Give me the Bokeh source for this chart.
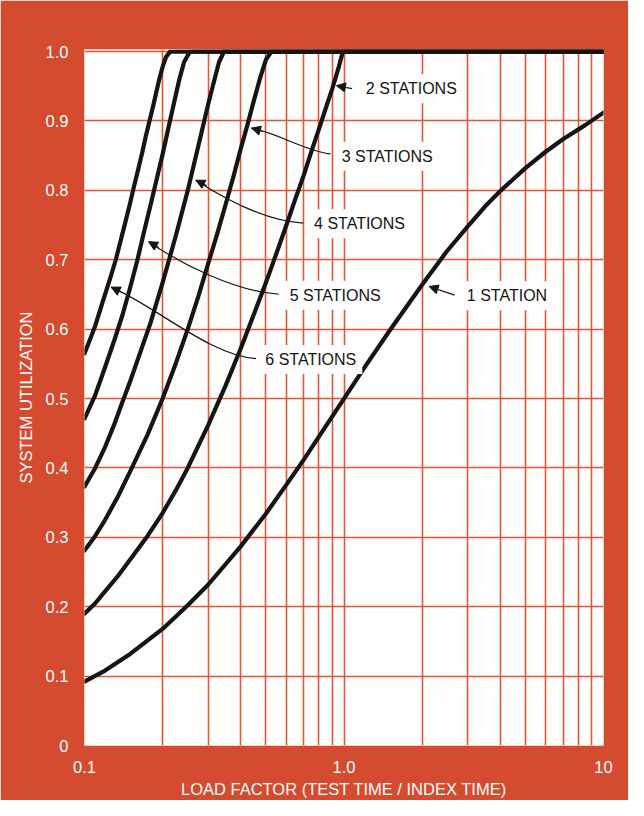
from bokeh.plotting import figure
from bokeh.models import FixedTicker, Label, Arrow, NormalHead, Range1d
from bokeh.embed import file_html
from bokeh.resources import INLINE

# ---------------- data ----------------
x_ticks = [0.1, 1.0, 10.0]
x_tick_labels = ["0.1", "1.0", "10"]
y_ticks = [0.0, 0.1, 0.2, 0.3, 0.4, 0.5, 0.6, 0.7, 0.8, 0.9, 1.0]
y_tick_labels = ["0", "0.1", "0.2", "0.3", "0.4", "0.5", "0.6", "0.7", "0.8", "0.9", "1.0"]

x_title = "LOAD FACTOR (TEST TIME / INDEX TIME)"
y_title = "SYSTEM UTILIZATION"

load_1 = [0.1, 0.12, 0.15, 0.2, 0.25, 0.3, 0.4, 0.5, 0.6, 0.7, 0.85, 1.0, 1.2, 1.5,
          2.0, 2.5, 3.0, 3.5, 4.0, 5.0, 6.0, 7.0, 8.5, 10.0]
util_1 = [0.092, 0.108, 0.132, 0.168, 0.202, 0.232, 0.287, 0.334, 0.376, 0.412, 0.46, 0.5, 0.545, 0.598,
          0.664, 0.713, 0.748, 0.777, 0.799, 0.832, 0.856, 0.874, 0.894, 0.912]

load_2 = [0.1, 0.11, 0.12, 0.135, 0.15, 0.175, 0.2, 0.225, 0.25, 0.3, 0.35, 0.4, 0.45, 0.5,
          0.55, 0.6, 0.65, 0.7, 0.75, 0.8, 0.85, 0.9, 0.95, 0.99, 10.0]
util_2 = [0.19, 0.205, 0.222, 0.245, 0.268, 0.302, 0.335, 0.368, 0.4, 0.462, 0.519, 0.572, 0.622, 0.667,
          0.71, 0.75, 0.788, 0.822, 0.857, 0.888, 0.918, 0.946, 0.975, 1.0, 1.0]

load_3 = [0.1, 0.11, 0.12, 0.135, 0.15, 0.175, 0.2, 0.225, 0.25, 0.275, 0.3, 0.325, 0.35,
          0.375, 0.4, 0.425, 0.45, 0.475, 0.5, 0.525, 10.0]
util_3 = [0.281, 0.302, 0.325, 0.36, 0.395, 0.448, 0.5, 0.551, 0.6, 0.648, 0.695, 0.738, 0.78,
          0.82, 0.86, 0.895, 0.93, 0.962, 0.988, 1.0, 1.0]

load_4 = [0.1, 0.11, 0.12, 0.13, 0.14, 0.15, 0.16, 0.18, 0.2, 0.225, 0.25, 0.275, 0.3,
          0.318, 0.33, 0.345, 10.0]
util_4 = [0.373, 0.4, 0.43, 0.462, 0.495, 0.525, 0.555, 0.61, 0.667, 0.735, 0.8, 0.865, 0.925,
          0.962, 0.985, 1.0, 1.0]

load_5 = [0.1, 0.11, 0.12, 0.13, 0.14, 0.15, 0.16, 0.17, 0.18, 0.19, 0.2, 0.21, 0.22,
          0.232, 0.242, 0.255, 10.0]
util_5 = [0.471, 0.505, 0.545, 0.583, 0.62, 0.66, 0.7, 0.742, 0.78, 0.817, 0.852, 0.888, 0.922,
          0.96, 0.985, 1.0, 1.0]

load_6 = [0.1, 0.105, 0.11, 0.115, 0.12, 0.126, 0.132, 0.139, 0.145, 0.15, 0.155, 0.161,
          0.167, 0.172, 0.178, 0.184, 0.19, 0.195, 0.2, 0.206, 0.214, 10.0]
util_6 = [0.565, 0.585, 0.605, 0.628, 0.65, 0.675, 0.7, 0.733, 0.76, 0.782, 0.805, 0.83,
          0.855, 0.877, 0.9, 0.922, 0.945, 0.963, 0.978, 0.992, 1.0, 1.0]

station_labels = ["1 STATION", "2 STATIONS", "3 STATIONS", "4 STATIONS", "5 STATIONS", "6 STATIONS"]

# ---------------- style ----------------
RED = "#d44b2f"
GRID = "#e2553a"
INK = "#151515"
PAPER = "#fdfdfb"
FONT = "Liberation Sans"

p = figure(width=628, height=800, x_axis_type="log",
           x_range=Range1d(0.1, 10.0), y_range=Range1d(0.0, 1.003),
           output_backend="svg", toolbar_location=None,
           min_border_left=84, min_border_right=25, min_border_top=49, min_border_bottom=53,
           background_fill_color=PAPER, border_fill_color=RED,
           outline_line_color=None)

# grid: every unit inside each decade
x_grid = [k * 10.0 ** d for d in (-1, 0) for k in range(1, 10)] + [10.0]
p.xgrid.ticker = FixedTicker(ticks=x_grid)
p.ygrid.ticker = FixedTicker(ticks=y_ticks)
for g in (p.xgrid, p.ygrid):
    g.grid_line_color = GRID
    g.grid_line_width = 1.6
    g.grid_line_alpha = 1.0

# axes
p.xaxis.ticker = FixedTicker(ticks=x_ticks)
p.yaxis.ticker = FixedTicker(ticks=y_ticks)
p.xaxis.major_label_overrides = dict(zip(x_ticks, x_tick_labels))
p.yaxis.major_label_overrides = dict(zip(y_ticks, y_tick_labels))
p.xaxis.axis_label = x_title
p.yaxis.axis_label = y_title
for ax in (p.xaxis, p.yaxis):
    ax.axis_line_color = None
    ax.major_tick_line_color = None
    ax.minor_tick_line_color = None
    ax.major_label_text_color = "white"
    ax.major_label_text_font = FONT
    ax.major_label_text_font_size = "16.5px"
    ax.axis_label_text_color = "white"
    ax.axis_label_text_font = FONT
    ax.axis_label_text_font_size = "16.5px"
    ax.axis_label_text_font_style = "normal"
p.xaxis.major_label_standoff = 9
p.xaxis.axis_label_standoff = 4
p.yaxis.major_label_standoff = 10
p.yaxis.axis_label_standoff = 8

# curves
for xs, ys in [(load_1, util_1), (load_2, util_2), (load_3, util_3),
               (load_4, util_4), (load_5, util_5), (load_6, util_6)]:
    p.line(xs, ys, line_color=INK, line_width=4.2, line_join="round", line_cap="round")

# curved leader lines (bezier) for 3..6 stations
p.bezier(x0=[0.4398, 0.2685, 0.1767, 0.1267],
         y0=[0.8897, 0.8146, 0.7261, 0.6605],
         x1=[0.8872, 0.6963, 0.5607, 0.4581],
         y1=[0.8525, 0.7528, 0.6503, 0.5576],
         cx0=[0.5607, 0.342, 0.2358, 0.1898],
         cy0=[0.882, 0.7893, 0.6938, 0.632],
         cx1=[0.7085, 0.4925, 0.3797, 0.3056],
         cy1=[0.8567, 0.7556, 0.6545, 0.5618],
         line_color=INK, line_width=1.2)

# labels with white boxes (they interrupt the grid like in the original)
label_pos = [(2.82, 0.648), (1.151, 0.9466), (0.929, 0.8493),
             (0.727, 0.7518), (0.5855, 0.6489), (0.4716, 0.5562)]
for text, (lx, ly) in zip(station_labels, label_pos):
    p.add_layout(Label(x=lx, y=ly, text=text, text_font=FONT, text_font_size="16px",
                       text_color=INK, text_align="left", text_baseline="middle",
                       background_fill_color=PAPER, padding=6))

# arrow heads (and the two straight leaders)
arrows = [((2.667, 0.649), (2.128, 0.6615)),
          ((1.0735, 0.9466), (0.9348, 0.9508)),
          ((0.4882, 0.8848), (0.4398, 0.8897)),
          ((0.2954, 0.8069), (0.2685, 0.8146)),
          ((0.1931, 0.7177), (0.1767, 0.7261)),
          ((0.139, 0.6531), (0.1267, 0.6605))]
for (sx, sy), (ex, ey) in arrows:
    p.add_layout(Arrow(x_start=sx, y_start=sy, x_end=ex, y_end=ey,
                       line_color=INK, line_width=1.2,
                       end=NormalHead(size=9, fill_color=INK, line_color=INK, line_width=1)))

open("out.html", "w").write(file_html(p, INLINE))
